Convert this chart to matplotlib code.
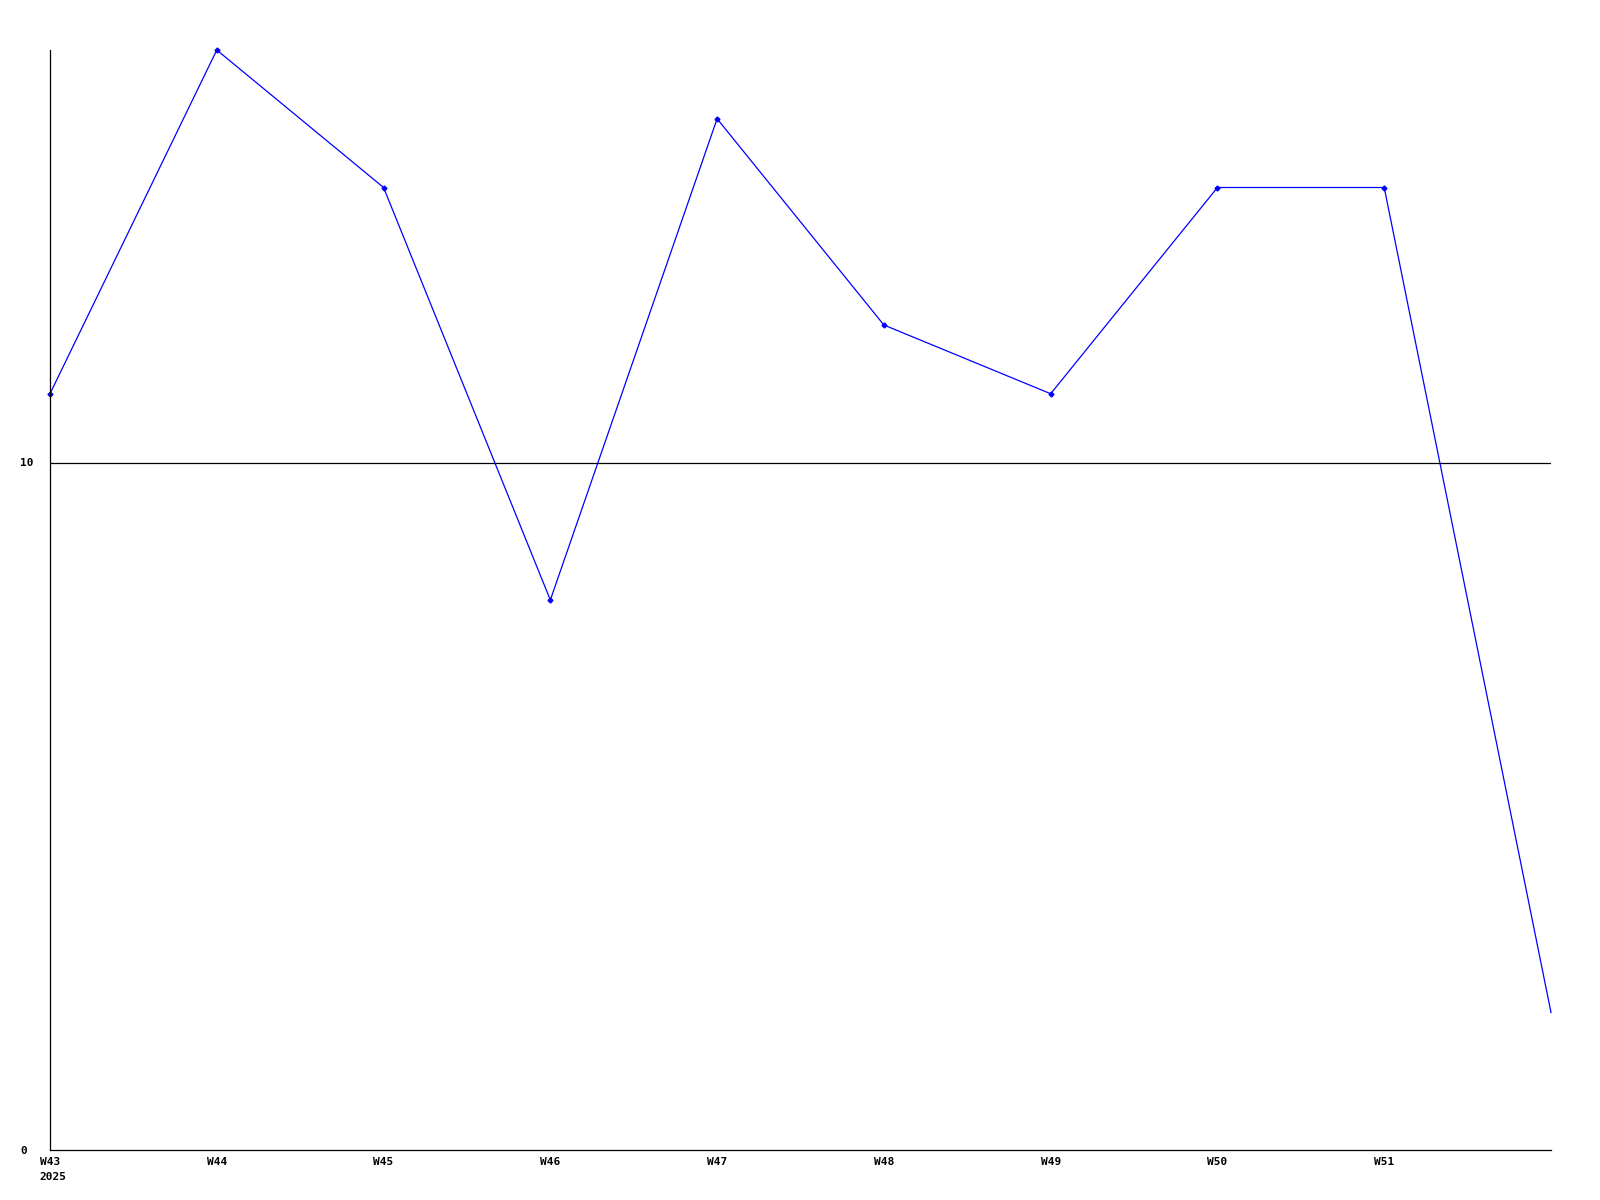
import matplotlib
matplotlib.use("Agg")
import matplotlib.pyplot as plt

weeks = ["W43", "W44", "W45", "W46", "W47", "W48", "W49", "W50", "W51", "W52"]
values = [11, 16, 14, 8, 15, 12, 11, 14, 14, 2]
tick_labels = ["W43", "W44", "W45", "W46", "W47", "W48", "W49", "W50", "W51"]
year_label = "2025"
y_ticks = [0, 10]

fig = plt.figure(figsize=(16, 12), dpi=100)
ax = fig.add_axes([50/1600, 1 - 1150/1200, 1501/1600, 1100/1200])

x = list(range(len(values)))
ax.plot(x, values, color="#0000ff", linewidth=0.9,
        marker="D", markersize=2.5, markevery=list(range(len(values) - 1)),
        clip_on=False)

ax.set_xlim(0, len(values) - 1)
ax.set_ylim(0, 16)

ax.set_yticks(y_ticks)
ax.set_yticklabels([str(v) for v in y_ticks], ha="left")
ax.set_xticks(list(range(len(tick_labels))))
ax.set_xticklabels(tick_labels, ha="center")

font = dict(fontfamily="DejaVu Sans Mono", fontweight="bold", fontsize=8)
for lbl in ax.get_xticklabels() + ax.get_yticklabels():
    lbl.set_fontfamily(font["fontfamily"])
    lbl.set_fontweight(font["fontweight"])
    lbl.set_fontsize(font["fontsize"])

ax.annotate(year_label, xy=(0, 0), xycoords=ax.get_xaxis_transform(),
            xytext=(-7.4, -15.5), textcoords="offset points",
            ha="left", va="top", annotation_clip=False, **font)

ax.tick_params(axis="both", length=0, pad=5)
ax.tick_params(axis="y", pad=21.6)
ax.axhline(10, color="black", linewidth=0.9, zorder=1)

for s in ["top", "right"]:
    ax.spines[s].set_visible(False)
for s in ["left", "bottom"]:
    ax.spines[s].set_linewidth(0.9)
    ax.spines[s].set_color("black")

fig.savefig("out.png", dpi=100)
